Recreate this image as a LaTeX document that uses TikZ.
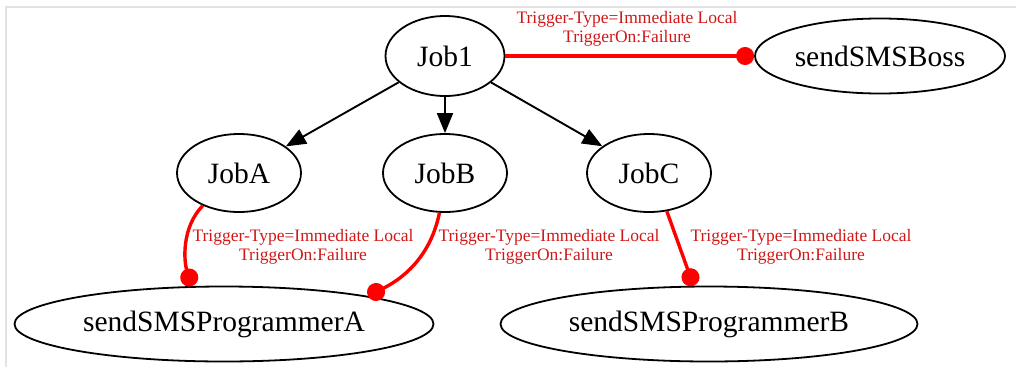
\documentclass[tikz,border=0pt]{standalone}
\usepackage{fontspec}
\setmainfont{Liberation Serif}
\usetikzlibrary{shapes.geometric, arrows.meta}
\definecolor{FrameGray}{HTML}{E2E2E2}
\definecolor{TrigRed}{HTML}{FF0000}
\definecolor{LabelRed}{HTML}{D01818}

\begin{document}
\begin{tikzpicture}[x=1pt, y=-1pt,
    every node/.style={font=\fontsize{29.5}{31}\selectfont},
    jobnode/.style={draw, ellipse, line width=1.8pt, inner sep=0pt, minimum width=124pt, minimum height=78pt},
    smsnode/.style={draw, ellipse, line width=1.8pt, inner sep=0pt, minimum height=75pt},
    depends/.style={-{Triangle[length=20pt,width=16pt]}, line width=1.9pt},
    trigger/.style={-{Circle[length=18pt]}, line width=3.4pt, draw=TrigRed},
    triglabel/.style={text=LabelRed, align=center, font=\fontsize{17.5}{19}\selectfont}]
    \useasboundingbox (0,0) rectangle (1016,367);
    \draw[FrameGray, line width=1.2pt] (1016,7) -- (6,7) -- (6,367);
    % jobs
    \node[jobnode, minimum width=119pt, minimum height=80pt](job1)at(445,56){Job1};
    \node[jobnode](jobA)at(239,173){JobA};
    \node[jobnode](jobB)at(445,173){JobB};
    \node[jobnode](jobC)at(649,173){JobC};
    % notifications
    \node[smsnode, minimum width=250pt](boss)at(880,56){sendSMSBoss};
    \node[smsnode, minimum width=419pt](smsA)at(224,324){sendSMSProgrammerA};
    \node[smsnode, minimum width=417pt](smsB)at(709,324){sendSMSProgrammerB};
    \draw[depends](job1)--(jobA);
    \draw[depends](job1.270)--(jobB.90);
    \draw[depends](job1)--(jobC);
    % triggers
    \draw[trigger](job1.east)--(boss.west);
    \draw[trigger](jobA.222) .. controls (181,228) and (184,262) .. (smsA.130);
    \draw[trigger](jobB.262) .. controls (432,250) and (410,275) .. (smsA.11);
    \draw[trigger](jobC.295)--(smsB.112);
    \node[triglabel](lb1)at(627,29){Trigger-Type=Immediate Local\\TriggerOn:Failure};
    \node[triglabel](lbA)at(303,247){Trigger-Type=Immediate Local\\TriggerOn:Failure};
    \node[triglabel](lbB)at(549,247){Trigger-Type=Immediate Local\\TriggerOn:Failure};
    \node[triglabel](lbC)at(801,247){Trigger-Type=Immediate Local\\TriggerOn:Failure};
\end{tikzpicture}
\end{document}
